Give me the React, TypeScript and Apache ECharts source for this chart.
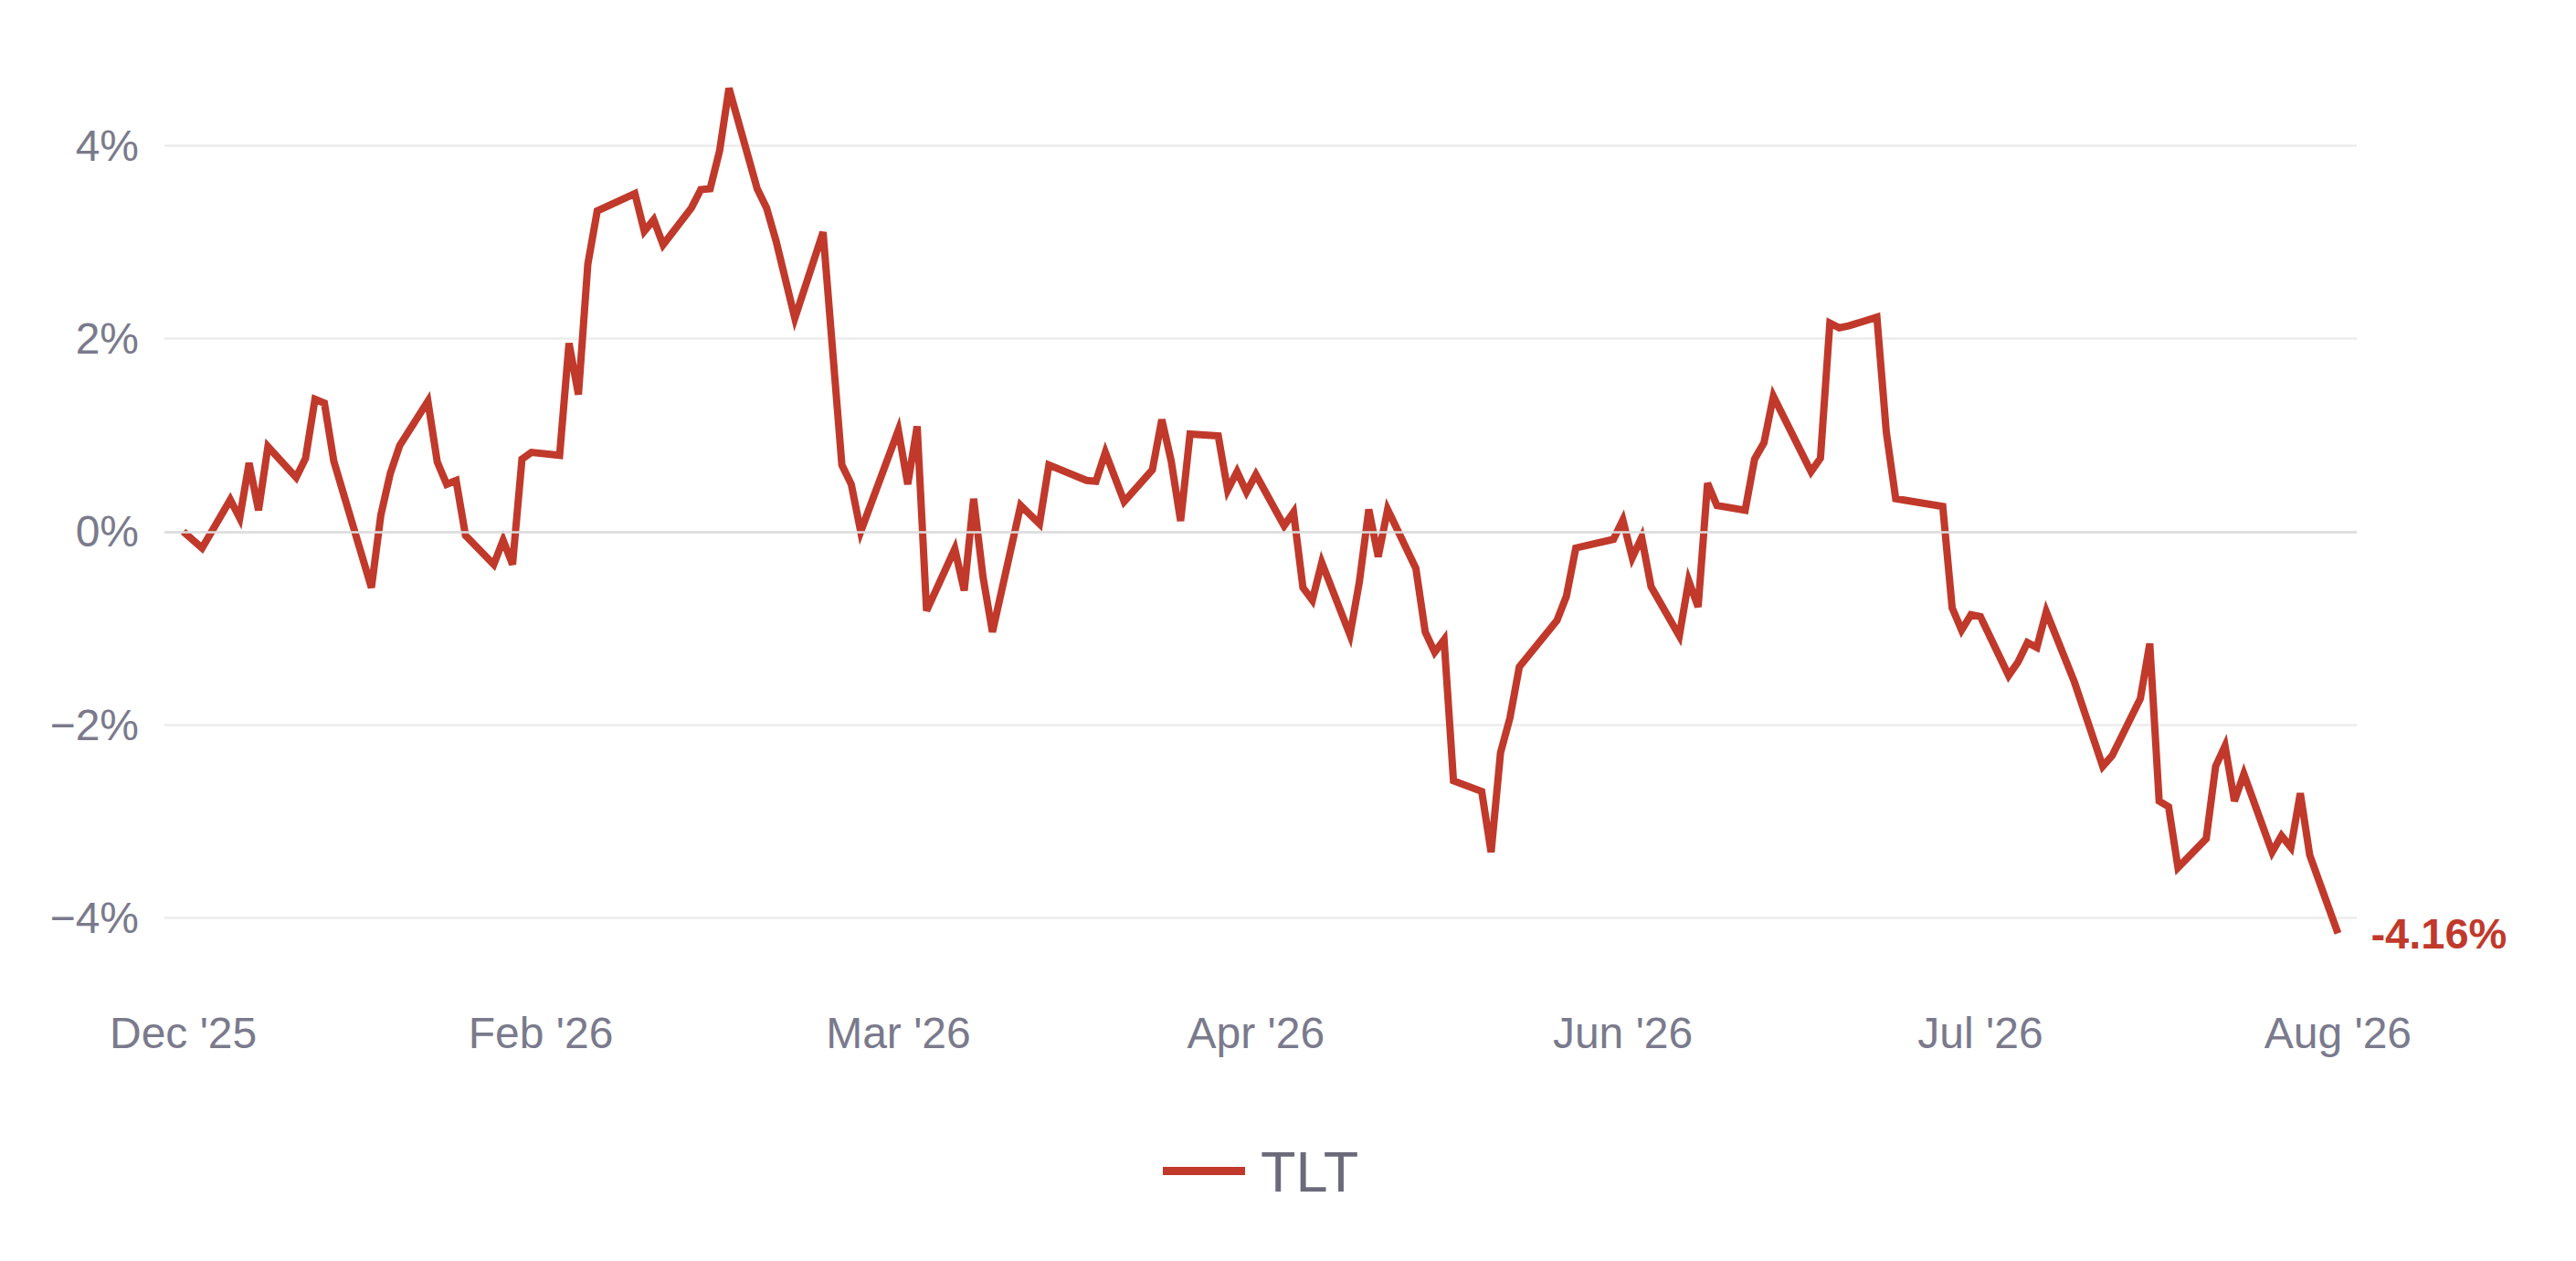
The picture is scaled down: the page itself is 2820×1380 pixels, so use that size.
import React, { useEffect, useRef } from "react";
import * as echarts from "echarts";

// Trading-day index of each turning point of the TLT line
const dayIndex = [
  0, 2, 5, 6, 7, 8, 9, 12, 13, 14, 15, 16, 20, 21, 22, 23, 26, 27, 28, 29,
  30, 33, 34, 35, 36, 37, 40, 41, 42, 43, 44, 48, 49, 50, 51, 54, 55, 56, 57, 58,
  61, 62, 63, 65, 68, 70, 71, 72, 76, 77, 78, 79, 82, 83, 84, 85, 86, 89, 91, 92,
  96, 97, 98, 100, 103, 104, 105, 106, 107, 110, 111, 112, 113, 114, 117, 118, 119, 120, 121, 124,
  125, 126, 127, 128, 131, 132, 133, 134, 135, 138, 139, 140, 141, 142, 146, 147, 148, 152, 153, 154,
  155, 156, 159, 160, 161, 162, 163, 166, 167, 168, 169, 173, 174, 175, 176, 177, 180, 181, 182, 187,
  188, 189, 190, 191, 194, 195, 196, 197, 198, 201, 204, 205, 208, 209, 210, 211, 212, 215, 216, 217,
  218, 219, 222, 223, 224, 225, 226, 229,
];

// Cumulative return (%) at each of those days
const tltReturn = [
  0.0, -0.17, 0.33, 0.14, 0.71, 0.22, 0.88, 0.56, 0.76, 1.37, 1.33, 0.73, -0.58, 0.17, 0.6, 0.89, 1.35, 0.72, 0.49, 0.53,
  -0.04, -0.34, -0.09, -0.34, 0.75, 0.82, 0.79, 1.95, 1.42, 2.77, 3.32, 3.5, 3.11, 3.23, 2.97, 3.35, 3.54, 3.55, 3.94, 4.59,
  3.55, 3.35, 3.01, 2.21, 3.1, 0.69, 0.49, 0.0, 1.05, 0.49, 1.09, -0.82, -0.18, -0.61, 0.34, -0.47, -1.04, 0.27, 0.08, 0.69,
  0.53, 0.52, 0.82, 0.31, 0.64, 1.16, 0.73, 0.11, 1.01, 0.99, 0.43, 0.62, 0.41, 0.59, 0.06, 0.2, -0.58, -0.71, -0.32, -1.07,
  -0.52, 0.23, -0.26, 0.23, -0.38, -1.04, -1.25, -1.12, -2.58, -2.69, -3.32, -2.29, -1.93, -1.4, -0.92, -0.67, -0.17, -0.08, 0.12, -0.27,
  -0.06, -0.57, -1.08, -0.51, -0.78, 0.5, 0.27, 0.22, 0.75, 0.92, 1.4, 0.62, 0.76, 2.16, 2.11, 2.13, 2.22, 1.03, 0.34, 0.26,
  -0.79, -1.02, -0.86, -0.88, -1.49, -1.35, -1.15, -1.2, -0.83, -1.56, -2.43, -2.32, -1.73, -1.16, -2.79, -2.85, -3.48, -3.18, -2.43, -2.22,
  -2.79, -2.51, -3.32, -3.15, -3.27, -2.71, -3.35, -4.16,
];

// X-axis tick positions (trading-day index) and their labels
const tickIndex = [0, 38, 76, 114, 153, 191, 229];
const tickLabels = ["Dec '25", "Feb '26", "Mar '26", "Apr '26", "Jun '26", "Jul '26", "Aug '26"];

// Y-axis ticks (%)
const yTicks = [-4, -2, 0, 2, 4];

const seriesName = "TLT";
const lineColor = "#c0392b";
const FONT = "'Liberation Sans', Arial, Helvetica, sans-serif";

export default function App() {
  const ref = useRef<HTMLDivElement>(null);

  useEffect(() => {
    if (!ref.current) return;
    const chart = echarts.init(ref.current, null, { renderer: "svg" });
    const data = dayIndex.map((d, i) => [d, tltReturn[i]]);
    const lastValue = tltReturn[tltReturn.length - 1];

    chart.setOption({
      animation: false,
      backgroundColor: "#ffffff",
      textStyle: { fontFamily: FONT },
      grid: { left: 180, right: 240, top: 159, bottom: 1380 - 1004.5, containLabel: false },
      legend: {
        data: [seriesName],
        left: 1273,
        top: 1250,
        padding: 0,
        icon: "rect",
        itemWidth: 90,
        itemHeight: 9,
        textStyle: { fontSize: 63, color: "#6a6a7a", fontFamily: FONT, padding: [0, 0, 0, 12] },
      },
      xAxis: {
        type: "value",
        min: -2,
        max: 231,
        axisLine: { show: false },
        axisTick: { show: false },
        splitLine: { show: false },
        axisLabel: {
          customValues: tickIndex,
          margin: 102,
          fontSize: 48,
          color: "#7a7a8c",
          fontFamily: FONT,
          formatter: (v: number) => {
            const k = tickIndex.indexOf(v);
            return k >= 0 ? tickLabels[k] : "";
          },
        },
      },
      yAxis: {
        type: "value",
        min: yTicks[0],
        max: yTicks[yTicks.length - 1],
        interval: 2,
        axisLine: { show: false },
        axisTick: { show: false },
        splitLine: { show: true, lineStyle: { color: "#ececec", width: 2.5 } },
        axisLabel: {
          margin: 28,
          fontSize: 48,
          color: "#7a7a8c",
          fontFamily: FONT,
          formatter: (v: number) => (v < 0 ? "\u2212" + Math.abs(v) + "%" : v + "%"),
        },
      },
      series: [
        {
          name: "zero",
          type: "line",
          data: [],
          z: 1,
          silent: true,
          markLine: {
            silent: true,
            symbol: "none",
            label: { show: false },
            lineStyle: { color: "#dcdcdc", width: 2.5, type: "solid" },
            data: [{ yAxis: 0 }],
          },
        },
        {
          name: seriesName,
          type: "line",
          data,
          z: 3,
          clip: false,
          showSymbol: false,
          symbol: "none",
          color: lineColor,
          lineStyle: { color: lineColor, width: 8, join: "miter" },
          endLabel: {
            show: true,
            distance: 36,
            fontSize: 47,
            fontWeight: "bold",
            color: lineColor,
            fontFamily: FONT,
            formatter: () => lastValue.toFixed(2) + "%",
          },
        },
      ],
    });

    return () => chart.dispose();
  }, []);

  return (
    <div
      ref={ref}
      style={{ position: "absolute", left: 0, top: 0, width: 2820, height: 1380, background: "#fff" }}
    />
  );
}
